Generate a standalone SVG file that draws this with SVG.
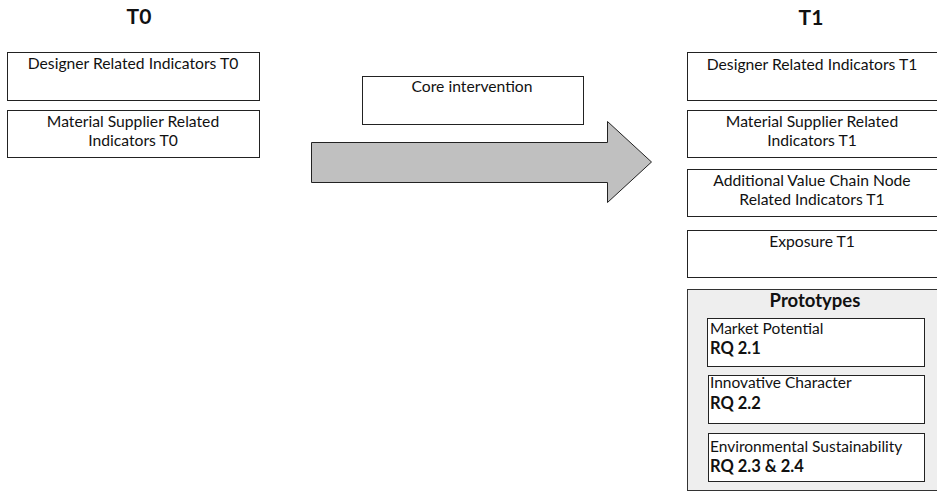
<svg xmlns="http://www.w3.org/2000/svg" width="937" height="492" viewBox="0 0 937 492">
  <style>
    text { font-family: "Lato", "Open Sans", "Liberation Sans", sans-serif; fill: #111; }
    .title { font-size: 21px; font-weight: bold; text-anchor: middle; }
    .lbl { font-size: 15.7px; text-anchor: middle; }
    .sub { font-size: 15.5px; }
    .rq { font-size: 16.5px; font-weight: bold; }
    .head { font-size: 18.5px; font-weight: bold; text-anchor: middle; }
    .box { fill: #ffffff; stroke: #222; stroke-width: 1; }
    .group { fill: #eeeeee; stroke: #333; stroke-width: 1; }
  </style>

  <!-- column headings -->
  <text class="title" x="139" y="24">T0</text>
  <text class="title" x="811" y="25">T1</text>

  <!-- block arrow between the two columns -->
  <g id="connectors">
    <polygon points="311.5,142.5 607.5,142.5 607.5,121.5 651.5,162 607.5,202.5 607.5,182.5 311.5,182.5" fill="#c0c0c0" stroke="#222" stroke-width="1"/>
  </g>

  <!-- T0 column -->
  <g id="designer-t0">
    <rect class="box" x="7.5" y="52.5" width="252" height="48"/>
    <text class="lbl" x="133" y="69">Designer Related Indicators T0</text>
  </g>
  <g id="supplier-t0">
    <rect class="box" x="7.5" y="110.5" width="252" height="47"/>
    <text class="lbl" x="133" y="127">Material Supplier Related</text>
    <text class="lbl" x="133" y="146">Indicators T0</text>
  </g>

  <!-- intervention -->
  <g id="core-intervention">
    <rect class="box" x="362.5" y="76.5" width="221" height="48"/>
    <text class="lbl" x="472" y="92">Core intervention</text>
  </g>

  <!-- T1 column (boxes run past the right edge) -->
  <g id="designer-t1">
    <rect class="box" x="687.5" y="52.5" width="260" height="48"/>
    <text class="lbl" x="812" y="70">Designer Related Indicators T1</text>
  </g>
  <g id="supplier-t1">
    <rect class="box" x="687.5" y="110.5" width="260" height="47"/>
    <text class="lbl" x="812" y="127">Material Supplier Related</text>
    <text class="lbl" x="812" y="146">Indicators T1</text>
  </g>
  <g id="value-chain-t1">
    <rect class="box" x="687.5" y="169.5" width="260" height="47"/>
    <text class="lbl" x="812" y="186">Additional Value Chain Node</text>
    <text class="lbl" x="812" y="204.5">Related Indicators T1</text>
  </g>
  <g id="exposure-t1">
    <rect class="box" x="687.5" y="230.5" width="260" height="47"/>
    <text class="lbl" x="812" y="246.5">Exposure T1</text>
  </g>

  <!-- prototypes panel -->
  <g id="prototypes">
    <rect class="group" x="687.5" y="289.5" width="260" height="201"/>
    <text class="head" x="815" y="307">Prototypes</text>
  </g>
  <g id="market-potential">
    <rect class="box" x="707.5" y="318.5" width="217" height="48"/>
    <text class="sub" x="710" y="334">Market Potential</text>
    <text class="rq" x="710" y="354">RQ 2.1</text>
  </g>
  <g id="innovative-character">
    <rect class="box" x="708.5" y="375.5" width="216" height="48"/>
    <text class="sub" x="710" y="388">Innovative Character</text>
    <text class="rq" x="710" y="409">RQ 2.2</text>
  </g>
  <g id="environmental-sustainability">
    <rect class="box" x="708.5" y="433.5" width="216" height="48"/>
    <text class="sub" x="710" y="452">Environmental Sustainability</text>
    <text class="rq" x="710" y="472">RQ 2.3 &amp; 2.4</text>
  </g>
</svg>
